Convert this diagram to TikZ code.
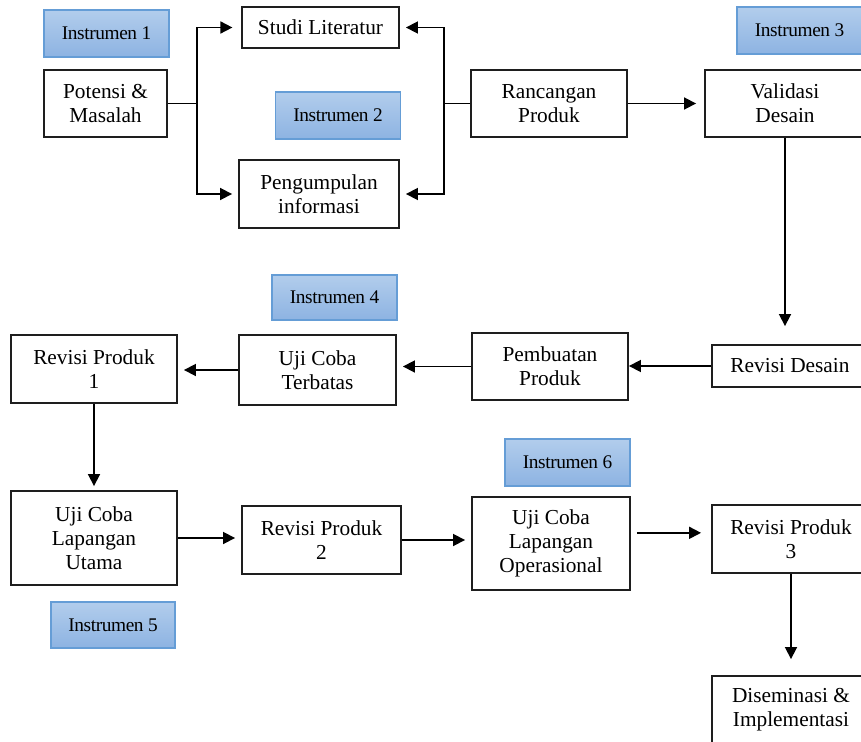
\documentclass[tikz,border=0pt]{standalone}
\usepackage{fontspec}
\setmainfont{Liberation Serif}
\usetikzlibrary{arrows.meta}

\definecolor{instTop}{RGB}{178,205,236}
\definecolor{instBot}{RGB}{141,179,226}
\definecolor{instLine}{RGB}{101,157,214}
\definecolor{boxLine}{RGB}{30,30,30}

\tikzset{every picture/.style={line width=0.75pt}}
\tikzset{
  stepbox/.style={draw=boxLine, line width=1.4pt, fill=white, inner sep=0pt, align=center,
    font=\fontsize{16}{18}\selectfont},
  instbox/.style={draw=instLine, line width=1.2pt, top color=instTop, bottom color=instBot,
    inner sep=0pt, align=center, minimum width=93.75pt, minimum height=35.25pt,
    font=\fontsize{14.5}{16}\selectfont\addfontfeatures{LetterSpace=-2}},
  arr/.style={draw=black, line width=1.3pt, -{Triangle[length=9pt,width=9pt]}},
  ln/.style={draw=black, line width=1.3pt}
}

\begin{document}
\begin{tikzpicture}[x=0.75pt,y=0.75pt,yscale=-1,xscale=1]
\useasboundingbox (0,0) rectangle (861,742);
\clip (0,0) rectangle (861,742);

%Shape: Instrumen boxes
\node [instbox] (inst1) at (106.5,33.5) {Instrumen 1};
\node [instbox] (inst2) at (338,115.5) {Instrumen 2};
\node [instbox] (inst3) at (799.5,30.5) {Instrumen 3};
\node [instbox, minimum height=33.75pt] (inst4) at (334.5,297.5) {Instrumen 4};
\node [instbox, minimum width=93pt, minimum height=34.5pt] (inst5) at (113,625) {Instrumen 5};
\node [instbox] (inst6) at (567.5,462.5) {Instrumen 6};

%Shape: Rectangle -- top row
\node [stepbox, minimum width=92.25pt, minimum height=50.25pt] (potensi) at (105.5,103.5) {Potensi \&\\Masalah};
\node [stepbox, minimum width=117.75pt, minimum height=30.75pt] (studi) at (320.5,27.5) {Studi Literatur};
\node [stepbox, minimum width=120pt, minimum height=51pt] (kumpul) at (319,194) {Pengumpulan\\informasi};
\node [stepbox, minimum width=117pt, minimum height=50.25pt] (rancang) at (549,103.5) {Rancangan\\Produk};
\node [stepbox, minimum width=120pt, minimum height=50.25pt] (validasi) at (785,103.5) {Validasi\\Desain};

%Shape: Rectangle -- middle row
\node [stepbox, minimum width=117pt, minimum height=31.5pt] (revdesain) at (790,366) {Revisi Desain};
\node [stepbox, minimum width=117pt, minimum height=50.25pt] (pembuatan) at (550,366.5) {Pembuatan\\Produk};
\node [stepbox, minimum width=117.75pt, minimum height=52.5pt] (terbatas) at (317.5,370) {Uji Coba\\Terbatas};
\node [stepbox, minimum width=124.5pt, minimum height=51pt] (revisi1) at (94,369) {Revisi Produk\\1};

%Shape: Rectangle -- bottom row
\node [stepbox, minimum width=124.5pt, minimum height=70.5pt] (utama) at (94,538) {Uji Coba\\Lapangan\\Utama};
\node [stepbox, minimum width=119.25pt, minimum height=51pt] (revisi2) at (321.5,540) {Revisi Produk\\2};
\node [stepbox, minimum width=118.5pt, minimum height=69.75pt] (operasi) at (551,543.5) {Uji Coba\\Lapangan\\Operasional};
\node [stepbox, minimum width=118.5pt, minimum height=51pt] (revisi3) at (791,539) {Revisi Produk\\3};
\node [stepbox, minimum width=118.5pt, minimum height=51pt] (sebar) at (791,710) {Diseminasi \&\\Implementasi};

%Straight Lines -- branches
\coordinate (jkiri) at (197,103.5);
\coordinate (jkanan) at (444,103.5);
\draw [ln] (potensi.east) -- (jkiri);
\draw [arr, shorten >=6.5pt] (jkiri) |- (studi.west);
\draw [arr, shorten >=4.5pt] (jkiri) |- (kumpul.west);
\draw [ln] (rancang.west) -- (jkanan);
\draw [arr, shorten >=4.5pt] (jkanan) |- (studi.east);
\draw [arr, shorten >=4.5pt] (jkanan) |- (kumpul.east);

%Straight Lines -- flow
\draw [arr, shorten >=6pt] (rancang.east) -- (validasi.west);
\draw [arr, shorten >=13.5pt] (validasi.south) -- (validasi.south |- revdesain.north);
\draw [arr] (revdesain.west) -- (revdesain.west -| pembuatan.east);
\draw [arr, shorten >=4.5pt] (pembuatan.west) -- (pembuatan.west -| terbatas.east);
\draw [arr, shorten >=4.5pt] (terbatas.west) -- (terbatas.west -| revisi1.east);
\draw [arr, shorten >=3pt] (revisi1.south) -- (utama.north);
\draw [arr, shorten >=4.5pt] (utama.east) -- (utama.east -| revisi2.west);
\draw [arr, shorten >=4.5pt] (revisi2.east) -- (revisi2.east -| operasi.west);
\draw [arr, shorten <=4.5pt, shorten >=7.5pt] ([yshift=-8pt]operasi.east) -- ([yshift=-8pt]operasi.east -| revisi3.west);
\draw [arr, shorten >=12pt] (revisi3.south) -- (sebar.north);

\end{tikzpicture}
\end{document}
